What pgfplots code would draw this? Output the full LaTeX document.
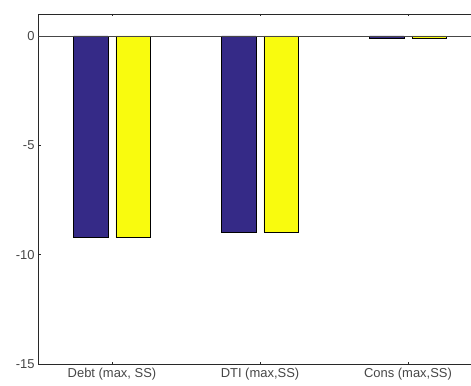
\documentclass[border=0pt]{standalone}
\usepackage{fontspec}
\setmainfont{Liberation Sans}
\usepackage{pgfplots}
\pgfplotsset{compat=1.18}
\definecolor{cblue}{RGB}{53,42,135}
\definecolor{cyellow}{RGB}{249,251,14}
\definecolor{tickgray}{RGB}{70,70,70}
\definecolor{axgray}{RGB}{40,40,40}
\begin{document}
\begin{tikzpicture}
\begin{axis}[
  scale only axis,
  width=444bp, height=350bp,
  xmin=0.5, xmax=3.5,
  ymin=-15, ymax=1,
  separate axis lines,
  axis x line*=box, axis y line*=left,
  axis line style={axgray, line width=0.6pt},
  xtick={1,2,3},
  xticklabels={{Debt (max, SS)},{DTI (max,SS)},{Cons (max,SS)}},
  ytick={-15,-10,-5,0},
  tick align=inside,
  major tick length=2.5bp,
  tick style={axgray, line width=0.5pt},
  x tick label style={font=\fontsize{13}{15}\selectfont, text=tickgray, yshift=-1bp},
  y tick label style={font=\fontsize{13}{15}\selectfont, text=tickgray},
  /pgf/number format/assume math mode=true,
  clip=false,
]
\addplot[ybar, bar width=0.233, bar shift=-0.143, fill=cblue, draw=black, line width=0.5pt] coordinates {(1,-9.22) (2,-8.97) (3,-0.11)};
\addplot[ybar, bar width=0.233, bar shift=0.143, fill=cyellow, draw=black, line width=0.5pt] coordinates {(1,-9.22) (2,-8.97) (3,-0.11)};
\addplot[tickgray, line width=0.6pt, no markers] coordinates {(0.5,0) (3.5,0)};
\coordinate (bl) at (rel axis cs:0,0);
\end{axis}
\pgfresetboundingbox
\useasboundingbox ([xshift=-38bp,yshift=-22bp]bl) rectangle ([xshift=433bp,yshift=364bp]bl);
\end{tikzpicture}
\end{document}
